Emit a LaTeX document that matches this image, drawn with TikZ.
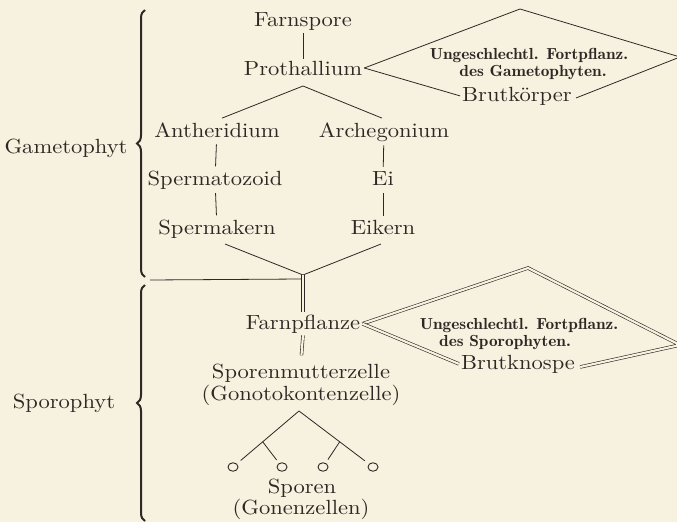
\documentclass[tikz,border=0pt]{standalone}
\usepackage{fontspec}
\setmainfont{lmroman10-regular}[Extension=.otf, FakeStretch=1.1]
\newfontfamily\smallfont{lmromandemi10-regular}[Extension=.otf, FakeStretch=1.08]
\usetikzlibrary{decorations.pathreplacing,shapes.geometric,calc}
\definecolor{bg}{RGB}{247,241,224}
\definecolor{ink}{RGB}{45,40,35}
\begin{document}
\begin{tikzpicture}[x=1pt,y=-1pt,
  lbl/.style={font=\fontsize{20.5}{22}\selectfont, text=ink, inner sep=2pt, anchor=base},
  sml/.style={font=\smallfont\fontsize{16}{18}\selectfont, text=ink, inner sep=1pt, anchor=base},
  ln/.style={draw=ink, line width=0.8pt},
  dl/.style={draw=ink, double=bg, double distance=2.2pt, line width=0.6pt},
  br/.style={draw=ink, line width=2pt, decorate, decoration={brace, amplitude=8pt}},
  spore/.style={draw=ink, ellipse, minimum width=10pt, minimum height=8.5pt, inner sep=0pt, line width=0.9pt}]
\fill[bg] (0,0) rectangle (677,522);
\useasboundingbox (0,0) rectangle (677,522);
% nodes
\node[lbl] (farnspore) at (303,27) {Farnspore};
\node[lbl] (proth) at (303,75) {Prothallium};
\node[lbl] (anth) at (217,137) {Antheridium};
\node[lbl] (arch) at (384,137) {Archegonium};
\node[lbl] (spz) at (215,185) {Spermatozoid};
\node[lbl] (ei) at (383,185) {Ei};
\node[lbl] (spk) at (217,234) {Spermakern};
\node[lbl] (eik) at (383,234) {Eikern};
\node[lbl] (farnpf) at (303,329) {Farnpflanze};
\node[lbl] (smz) at (301,378) {Sporenmutterzelle};
\node[lbl] (gono) at (301,400) {(Gonotokontenzelle)};
\node[lbl] (sporen) at (302,493) {Sporen};
\node[lbl] (gonen) at (301,514) {(Gonenzellen)};
\node[lbl] (gam) at (66,153) {Gametophyt};
\node[lbl] (spo) at (64,408) {Sporophyt};
\node[sml] (ung1) at (529,59) {Ungeschlechtl. Fortpflanz.};
\node[sml] (des1) at (533,76) {des Gametophyten.};
\node[lbl] (brutk) at (517,101) {Brutkörper};
\node[sml] (ung2) at (519,329) {Ungeschlechtl. Fortpflanz.};
\node[sml] (des2) at (505,346) {des Sporophyten.};
\node[lbl] (brutkn) at (518,369) {Brutknospe};
\node[spore] (s1) at (233,467) {};
\node[spore] (s2) at (282,467) {};
\node[spore] (s3) at (323,467) {};
\node[spore] (s4) at (373,467) {};
% coordinates
\coordinate (pv) at (303,86);
\coordinate (top1) at (520,9);
\coordinate (right1) at (680,57);
\coordinate (vl) at (225,244);
\coordinate (vr) at (381,244);
\coordinate (jn) at (303,275);
\coordinate (hstart) at (150,280);
\coordinate (hend) at (301,279);
\coordinate (top2) at (528,268);
\coordinate (right2) at (680,345);
\coordinate (tapex) at (299,411);
\coordinate (til) at ($(tapex)!0.55!(s1)$);
\coordinate (tir) at ($(tapex)!0.55!(s4)$);
% connectors
\draw[ln] (farnspore) -- (proth);
\draw[ln] ($(anth.north)+(5,-2)$) -- (pv) -- ($(arch.north)+(-2,-2)$);
\draw[ln, shorten <=5pt, shorten >=2pt] (anth) -- (spz);
\draw[ln, shorten <=2pt, shorten >=2pt] (spz) -- (spk);
\draw[ln, shorten <=2pt, shorten >=2pt] (arch) -- (ei);
\draw[ln, shorten <=6pt, shorten >=2pt] (ei) -- (eik);
\draw[ln] (vl) -- (jn) -- (vr);
\draw[ln] (hstart) -- (hend);
\draw[dl] (jn) -- (farnpf.north);
\draw[dl, shorten >=6pt] (farnpf.south) -- (smz.north);
% upper diamond
\draw[ln] (proth.east) -- (top1) -- (right1) -- ($(brutk.base east)+(2,-3)$);
\draw[ln] (proth.east) -- (brutk.west);
% lower diamond
\draw[dl] (farnpf.east) -- (top2) -- (right2) -- ($(brutkn.base east)+(3,-2)$);
\draw[dl] (farnpf.east) -- (brutkn.west);
% spore tree
\draw[ln, shorten >=5pt] (tapex) -- (s1);
\draw[ln, shorten >=5pt] (tapex) -- (s4);
\draw[ln, shorten >=4pt] (til) -- (s2);
\draw[ln, shorten >=4pt] (tir) -- (s3);
% braces
\draw[br] (145,277) -- (145,10);
\draw[br] (145,521) -- (145,285);
\end{tikzpicture}
\end{document}
